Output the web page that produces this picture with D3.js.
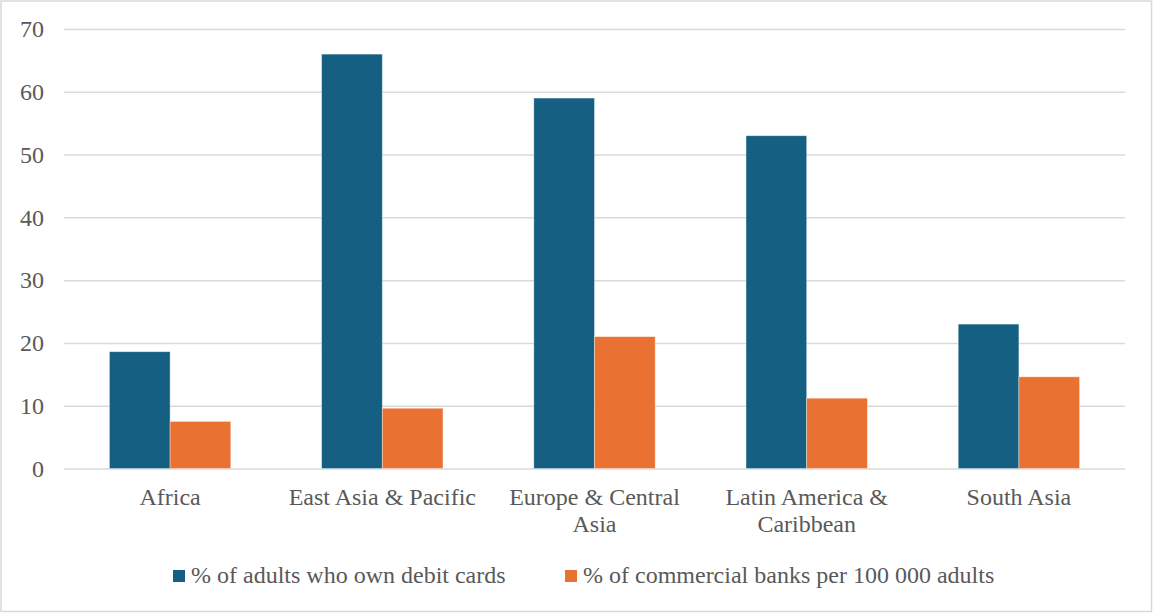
<!DOCTYPE html>
<html>
<head>
<meta charset="utf-8">
<script src="https://cdn.jsdelivr.net/npm/d3@7"></script>
</head>
<body style="margin:0">
<svg id="chart" width="1153" height="613"></svg>
<script>
// Regions along the x axis
const regions = ["Africa", "East Asia & Pacific", "Europe & Central Asia", "Latin America & Caribbean", "South Asia"];
// Series names (legend order)
const seriesNames = ["% of adults who own debit cards", "% of commercial banks per 100 000 adults"];
// Values per region, one array per series
const debitCards = [18.6, 66, 59, 53, 23];
const commercialBanks = [7.5, 9.6, 21, 11.2, 14.6];
// Value axis ticks
const yTicks = [0, 10, 20, 30, 40, 50, 60, 70];
const seriesColors = ["#156082", "#E97132"];

const FONT = "Liberation Serif";
const FONT_SIZE = 24;
const TEXT_COLOR = "#595959";
const W = 1153, H = 613;
const margin = { left: 64, right: 28, top: 29, bottom: 144.5 };
const svg = d3.select("#chart");

function styleText(sel) {
  return sel.attr("font-family", FONT).style("font-family", `"${FONT}"`)
    .attr("font-size", FONT_SIZE).attr("fill", TEXT_COLOR);
}

// chart frame
svg.append("rect")
  .attr("x", 1).attr("y", 1).attr("width", W - 2.5).attr("height", H - 2.5)
  .attr("fill", "#fff").attr("stroke", "#d9d9d9").attr("stroke-width", 1.5);

const x0 = d3.scaleBand().domain(regions).range([margin.left, W - margin.right]).padding(0);
const bw = x0.bandwidth();
const sidePad = bw * 0.214;
const x1 = d3.scaleBand().domain(seriesNames).range([sidePad, bw - sidePad]).padding(0);
const y = d3.scaleLinear().domain([0, 70]).range([H - margin.bottom, margin.top]);

// horizontal gridlines + value labels
const yAxis = d3.axisLeft(y).tickValues(yTicks).tickSize(0).tickPadding(20);
const gy = svg.append("g").attr("transform", `translate(${margin.left},0)`).call(yAxis)
  .attr("font-family", FONT).attr("font-size", FONT_SIZE);
gy.select(".domain").remove();
styleText(gy.selectAll(".tick text"));
gy.selectAll(".tick line")
  .attr("x2", W - margin.right - margin.left)
  .attr("stroke", "#d9d9d9").attr("stroke-width", 1.5);

// bars
const rows = regions.map((r, i) => ({ region: r, values: [debitCards[i], commercialBanks[i]] }));
const groups = svg.append("g").selectAll("g")
  .data(rows).join("g")
  .attr("transform", d => `translate(${x0(d.region)},0)`);
groups.selectAll("rect")
  .data(d => d.values.map((v, k) => ({ name: seriesNames[k], value: v, k })))
  .join("rect")
  .attr("x", d => x1(d.name))
  .attr("width", x1.bandwidth())
  .attr("y", d => y(d.value))
  .attr("height", d => y(0) - y(d.value))
  .attr("fill", d => seriesColors[d.k])
  .attr("stroke", "#ffffff").attr("stroke-opacity", 0.5).attr("stroke-width", 0.75);

// category axis labels (wrapped to band width)
const xAxis = d3.axisBottom(x0).tickSize(0).tickPadding(0);
const gx = svg.append("g").attr("transform", `translate(0,${y(0)})`).call(xAxis)
  .attr("font-family", FONT).attr("font-size", FONT_SIZE);
gx.select(".domain").remove();
styleText(gx.selectAll(".tick text"))
  .attr("dy", null).attr("y", 36)
  .each(function (d) {
    const t = d3.select(this);
    const words = d.split(" ");
    t.text(null);
    let line = [], lineNo = 0;
    let tspan = t.append("tspan").attr("x", 0).attr("y", 36);
    for (const w of words) {
      line.push(w);
      tspan.text(line.join(" "));
      if (tspan.node().getComputedTextLength() > bw - 8 && line.length > 1) {
        line.pop();
        tspan.text(line.join(" "));
        line = [w];
        lineNo++;
        tspan = t.append("tspan").attr("x", 0).attr("y", 36 + lineNo * 27).text(w);
      }
    }
  });

// legend
const legend = svg.append("g");
const legendX = [173, 565];
seriesNames.forEach((name, k) => {
  legend.append("rect")
    .attr("x", legendX[k]).attr("y", 570).attr("width", 12).attr("height", 12)
    .attr("fill", seriesColors[k]);
  styleText(legend.append("text"))
    .attr("x", legendX[k] + 18).attr("y", 583)
    .text(name);
});
</script>
</body>
</html>
